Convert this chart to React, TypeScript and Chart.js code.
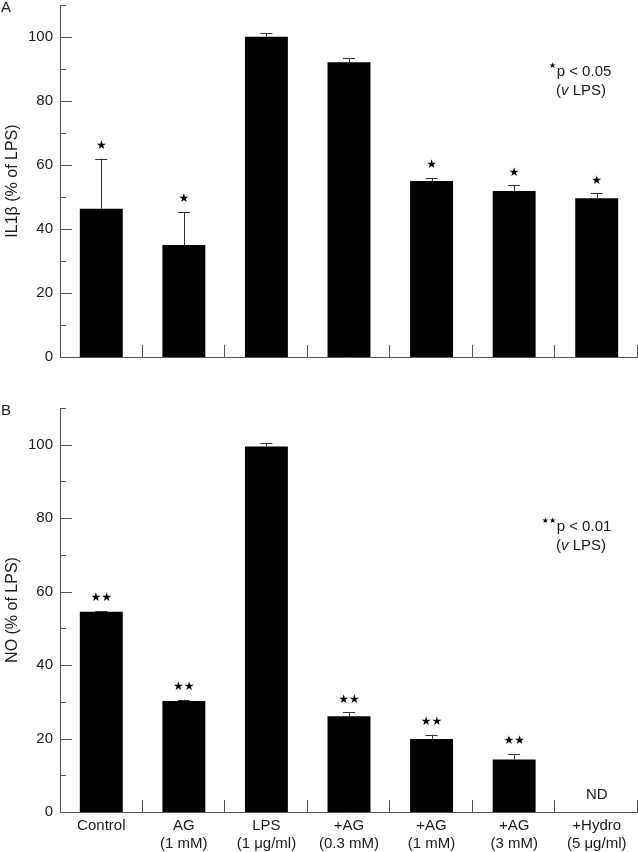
import React, { useEffect, useRef } from 'react';
import { Chart, registerables } from 'chart.js';

Chart.register(...registerables);

// ---------- data ----------
const categories: string[][] = [
  ['Control'],
  ['AG', '(1 mM)'],
  ['LPS', '(1 μg/ml)'],
  ['+AG', '(0.3 mM)'],
  ['+AG', '(1 mM)'],
  ['+AG', '(3 mM)'],
  ['+Hydro', '(5 μg/ml)'],
];

const il1bMean = [46.3, 35.0, 100.1, 92.1, 55.0, 51.9, 49.6];
const il1bSem = [15.7, 10.3, 1.2, 1.2, 1.0, 1.7, 1.5];
const il1bSig = ['★', '★', '', '', '★', '★', '★'];

const noMean: (number | null)[] = [54.5, 30.2, 99.5, 26.1, 19.9, 14.3, null];
const noSem: (number | null)[] = [0.2, 0.4, 1.0, 1.0, 1.1, 1.5, null];
const noSig = ['★★', '★★', '', '★★', '★★', '★★', ''];
const noNote = ['', '', '', '', '', '', 'ND'];

const yMin = 0;
const yMax = 110;
const yStep = 10;
const yLabelStep = 20;

// ---------- styles ----------
const FONT = '"Liberation Sans", Arial, Helvetica, sans-serif';
const TEXT = '#1a1a1a';
const AXIS = '#555555';

type PanelCfg = {
  letter: string;
  title: string;
  mean: (number | null)[];
  sem: (number | null)[];
  sig: string[];
  note: string[];
  height: number;
  padTop: number;
  xHeight: number;
  showX: boolean;
  sigText: string;
  pLine: string;
  annY: number;
};

function makePlugin(cfg: PanelCfg) {
  return {
    id: 'panelDecor' + cfg.letter,
    afterDatasetsDraw(chart: any) {
      const ctx = chart.ctx as CanvasRenderingContext2D;
      const ys = chart.scales.y;
      const xs = chart.scales.x;
      const area = chart.chartArea;
      const meta = chart.getDatasetMeta(0);
      ctx.save();

      // inward y ticks
      ctx.strokeStyle = AXIS;
      ctx.lineWidth = 1;
      for (let v = yMin + yStep; v <= yMax + 0.001; v += yStep) {
        const py = Math.round(ys.getPixelForValue(v)) + 0.5;
        const len = v % yLabelStep === 0 ? 12 : 6;
        ctx.beginPath();
        ctx.moveTo(area.left, py);
        ctx.lineTo(area.left + len, py);
        ctx.stroke();
      }
      // category separators (inward from x axis)
      const n = cfg.mean.length;
      const cw = (area.right - area.left) / n;
      for (let i = 1; i <= n; i++) {
        const px = Math.round(area.left + i * cw) - 0.5;
        ctx.beginPath();
        ctx.moveTo(px, area.bottom);
        ctx.lineTo(px, area.bottom - 12);
        ctx.stroke();
      }

      // error bars + significance marks
      for (let i = 0; i < n; i++) {
        const m = cfg.mean[i];
        const s = cfg.sem[i];
        const bar = meta.data[i];
        const cx = xs.getPixelForValue(i);
        if (m != null && s != null && bar) {
          const top = ys.getPixelForValue(m);
          const et = ys.getPixelForValue(m + s);
          ctx.strokeStyle = '#333';
          ctx.lineWidth = 1;
          ctx.beginPath();
          ctx.moveTo(Math.round(cx) + 0.5, top);
          ctx.lineTo(Math.round(cx) + 0.5, et);
          ctx.moveTo(cx - 6, Math.round(et) + 0.5);
          ctx.lineTo(cx + 6, Math.round(et) + 0.5);
          ctx.stroke();
          if (cfg.sig[i]) {
            ctx.fillStyle = '#000';
            ctx.font = '12px "DejaVu Sans", sans-serif';
            ctx.textAlign = 'center';
            ctx.textBaseline = 'middle';
            ctx.fillText(cfg.sig[i], cx, et - 13);
          }
        }
        if (cfg.note[i]) {
          ctx.fillStyle = TEXT;
          ctx.font = `15px ${FONT}`;
          ctx.textAlign = 'center';
          ctx.textBaseline = 'middle';
          ctx.fillText(cfg.note[i], cx, area.bottom - 17);
        }
      }

      // significance legend
      ctx.fillStyle = TEXT;
      ctx.font = `15px ${FONT}`;
      ctx.textBaseline = 'middle';
      ctx.textAlign = 'left';
      const w1 = ctx.measureText(cfg.pLine).width;
      const x1 = area.right - 54 - w1 / 2;
      ctx.fillText(cfg.pLine, x1, cfg.annY);
      ctx.font = '8px "DejaVu Sans", sans-serif';
      ctx.textAlign = 'right';
      ctx.fillStyle = '#000';
      ctx.fillText(cfg.sigText, x1 - 0.5, cfg.annY - 6);
      // second line "(v LPS)"
      ctx.textAlign = 'left';
      ctx.fillStyle = TEXT;
      ctx.font = `15px ${FONT}`;
      const a = '(';
      const b = 'v';
      const c = ' LPS)';
      const wa = ctx.measureText(a).width;
      const wc = ctx.measureText(c).width;
      ctx.font = `italic 15px ${FONT}`;
      const wb = ctx.measureText(b).width;
      const total = wa + wb + wc;
      let x2 = area.right - 57 - total / 2;
      const y2 = cfg.annY + 19;
      ctx.font = `15px ${FONT}`;
      ctx.fillText(a, x2, y2);
      x2 += wa;
      ctx.font = `italic 15px ${FONT}`;
      ctx.fillText(b, x2, y2);
      x2 += wb;
      ctx.font = `15px ${FONT}`;
      ctx.fillText(c, x2, y2);

      // panel letter
      ctx.font = `15px ${FONT}`;
      ctx.textAlign = 'left';
      ctx.textBaseline = 'middle';
      ctx.fillText(cfg.letter, 1, area.top + 3);

      ctx.restore();
    },
  };
}

function Panel({ cfg }: { cfg: PanelCfg }) {
  const ref = useRef<HTMLCanvasElement | null>(null);
  useEffect(() => {
    if (!ref.current) return;
    const chart = new Chart(ref.current, {
      type: 'bar',
      data: {
        labels: categories,
        datasets: [
          {
            data: cfg.mean as any,
            backgroundColor: '#000000',
            borderWidth: 0,
            barPercentage: 0.52,
            categoryPercentage: 1,
          },
        ],
      },
      options: {
        responsive: false,
        animation: false,
        devicePixelRatio: 1,
        layout: { padding: { top: cfg.padTop, right: 0, left: 0, bottom: 0 } },
        plugins: { legend: { display: false }, tooltip: { enabled: false }, title: { display: false } },
        scales: {
          x: {
            type: 'category',
            offset: true,
            grid: { display: false, drawTicks: false },
            border: { display: true, color: AXIS, width: 1 },
            ticks: {
              display: cfg.showX,
              autoSkip: false,
              maxRotation: 0,
              minRotation: 0,
              padding: 5,
              color: TEXT,
              font: { family: FONT, size: 15, lineHeight: 1.2 },
            },
            afterFit: (s: any) => {
              s.height = cfg.xHeight;
              s.paddingLeft = 0;
              s.paddingRight = 0;
            },
          },
          y: {
            min: yMin,
            max: yMax,
            grid: { display: false, drawTicks: false },
            border: { display: true, color: AXIS, width: 1 },
            ticks: {
              stepSize: yStep,
              padding: 7,
              color: TEXT,
              font: { family: FONT, size: 15 },
              callback: (v: any) => (Number(v) % yLabelStep === 0 ? String(v) : ''),
            },
            title: {
              display: true,
              text: cfg.title,
              color: TEXT,
              font: { family: FONT, size: 16 },
              padding: { top: 3, bottom: 0 },
            },
            afterFit: (s: any) => {
              s.width = 60;
              s.paddingTop = 0;
              s.paddingBottom = 0;
            },
          },
        },
      },
      plugins: [makePlugin(cfg)],
    });
    return () => chart.destroy();
  }, [cfg]);
  return <canvas ref={ref} width={638} height={cfg.height} style={{ display: 'block', width: 638, height: cfg.height }} />;
}

const panelA: PanelCfg = {
  letter: 'A',
  title: 'IL1β (% of LPS)',
  mean: il1bMean,
  sem: il1bSem,
  sig: il1bSig,
  note: ['', '', '', '', '', '', ''],
  height: 380,
  padTop: 5,
  xHeight: 23,
  showX: false,
  sigText: '★',
  pLine: 'p < 0.05',
  annY: 72,
};

const panelB: PanelCfg = {
  letter: 'B',
  title: 'NO (% of LPS)',
  mean: noMean,
  sem: noSem,
  sig: noSig,
  note: noNote,
  height: 472,
  padTop: 28,
  xHeight: 40,
  showX: true,
  sigText: '★★',
  pLine: 'p < 0.01',
  annY: 147,
};

export default function App() {
  return (
    <div style={{ position: 'absolute', left: 0, top: 0, width: 638, height: 852, background: '#fff' }}>
      <Panel cfg={panelA} />
      <Panel cfg={panelB} />
    </div>
  );
}
